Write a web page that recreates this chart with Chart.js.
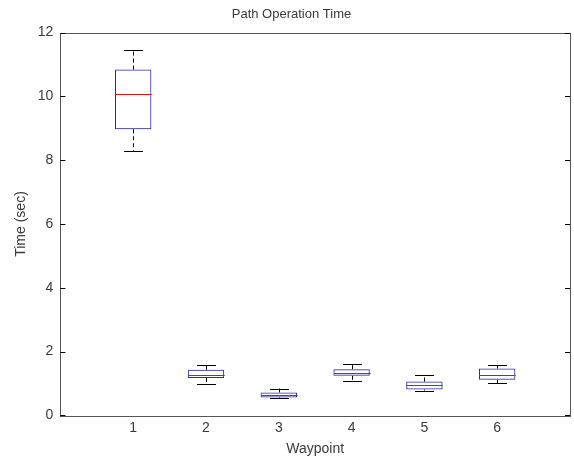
<!DOCTYPE html>
<html>
<head>
<meta charset="utf-8">
<script src="https://cdn.jsdelivr.net/npm/chart.js@4/dist/chart.umd.min.js"></script>
<style>
  html, body { margin: 0; padding: 0; background: #fff; }
  #wrap { width: 574px; height: 458px; }
</style>
</head>
<body>
<div id="wrap"><canvas id="boxChart" width="574" height="458"></canvas></div>
<script>
// waypoint boxplot stats (sec)
const waypoints = [1, 2, 3, 4, 5, 6];
const whiskerLow = [8.28, 0.97, 0.53, 1.09, 0.78, 1.01];
const q1 = [8.97, 1.17, 0.56, 1.24, 0.81, 1.12];
const medians = [10.08, 1.28, 0.63, 1.34, 0.94, 1.28];
const q3 = [10.84, 1.43, 0.72, 1.45, 1.06, 1.47];
const whiskerHigh = [11.46, 1.59, 0.84, 1.61, 1.28, 1.58];
const yTicks = [0, 2, 4, 6, 8, 10, 12];

const textColor = '#3a3a3a';
const axisColor = '#555555';

// whiskers, caps, medians and the axis frame, all through the chart scales
const boxExtras = {
    id: 'boxExtras',
    afterDatasetsDraw(chart) {
        const { ctx, chartArea: a, scales: { x, y } } = chart;
        const boxHalf = Math.abs(x.getPixelForValue(0.25) - x.getPixelForValue(0));
        const capHalf = Math.abs(x.getPixelForValue(0.13) - x.getPixelForValue(0));
        ctx.save();
        ctx.lineWidth = 1;
        waypoints.forEach((w, i) => {
            const px = Math.round(x.getPixelForValue(w)) + 0.5;
            // dashed whisker lines
            ctx.strokeStyle = '#000';
            ctx.setLineDash([4, 3]);
            ctx.beginPath();
            ctx.moveTo(px, y.getPixelForValue(q3[i]));
            ctx.lineTo(px, y.getPixelForValue(whiskerHigh[i]));
            ctx.moveTo(px, y.getPixelForValue(q1[i]));
            ctx.lineTo(px, y.getPixelForValue(whiskerLow[i]));
            ctx.stroke();
            ctx.setLineDash([]);
            // caps
            const hi = Math.round(y.getPixelForValue(whiskerHigh[i])) + 0.5;
            const lo = Math.round(y.getPixelForValue(whiskerLow[i])) + 0.5;
            ctx.beginPath();
            ctx.moveTo(px - capHalf, hi); ctx.lineTo(px + capHalf, hi);
            ctx.moveTo(px - capHalf, lo); ctx.lineTo(px + capHalf, lo);
            ctx.stroke();
            // median
            const my = Math.round(y.getPixelForValue(medians[i])) + 0.5;
            ctx.strokeStyle = '#e01010';
            ctx.beginPath();
            ctx.moveTo(px - boxHalf, my); ctx.lineTo(px + boxHalf, my);
            ctx.stroke();
        });

        // frame + inward ticks on left and right
        ctx.strokeStyle = axisColor;
        ctx.strokeRect(Math.round(a.left) + 0.5, Math.round(a.top) + 0.5,
            Math.round(a.right - a.left), Math.round(a.bottom - a.top));
        ctx.beginPath();
        yTicks.forEach(t => {
            const ty = Math.round(y.getPixelForValue(t)) + 0.5;
            ctx.moveTo(a.left, ty); ctx.lineTo(a.left + 5, ty);
            ctx.moveTo(a.right, ty); ctx.lineTo(a.right - 5, ty);
        });
        ctx.strokeStyle = '#000';
        ctx.stroke();
        ctx.restore();
    }
};

const boxData = waypoints.map((w, i) => ({ x: w, y: [q1[i], q3[i]] }));

new Chart(document.getElementById('boxChart'), {
    type: 'bar',
    data: {
        datasets: [{
            label: 'Time',
            data: boxData,
            backgroundColor: 'rgba(255,255,255,0)',
            borderColor: '#2828b0',
            borderWidth: 1,
            borderSkipped: false,
            categoryPercentage: 1,
            barPercentage: 0.5
        }]
    },
    options: {
        responsive: false,
        animation: false,
        layout: { padding: { left: 13, right: 4, top: 0, bottom: 0 } },
        plugins: {
            legend: { display: false },
            tooltip: { enabled: false },
            title: {
                display: true,
                text: 'Path Operation Time',
                color: textColor,
                font: { family: 'Liberation Sans, Arial', size: 13, weight: 'normal' },
                padding: { top: 7, bottom: 10 }
            }
        },
        scales: {
            x: {
                type: 'linear',
                min: 0,
                max: 7,
                offset: false,
                grid: { display: false, drawTicks: false },
                border: { display: false },
                ticks: {
                    stepSize: 1,
                    color: textColor,
                    font: { family: 'Liberation Sans, Arial', size: 14 },
                    padding: 4,
                    callback: v => (waypoints.includes(v) ? String(v) : '')
                },
                title: {
                    display: true,
                    text: 'Waypoint',
                    color: textColor,
                    font: { family: 'Liberation Sans, Arial', size: 14 },
                    padding: { top: 1, bottom: 0 }
                }
            },
            y: {
                min: 0,
                max: 12,
                grid: { display: false, drawTicks: false },
                border: { display: false },
                afterBuildTicks: axis => { axis.ticks = yTicks.map(v => ({ value: v })); },
                ticks: {
                    color: textColor,
                    font: { family: 'Liberation Sans, Arial', size: 14 },
                    padding: 7
                },
                title: {
                    display: true,
                    text: 'Time (sec)',
                    color: textColor,
                    font: { family: 'Liberation Sans, Arial', size: 14 },
                    padding: { top: 0, bottom: 1 }
                }
            }
        }
    },
    plugins: [boxExtras]
});
</script>
</body>
</html>
